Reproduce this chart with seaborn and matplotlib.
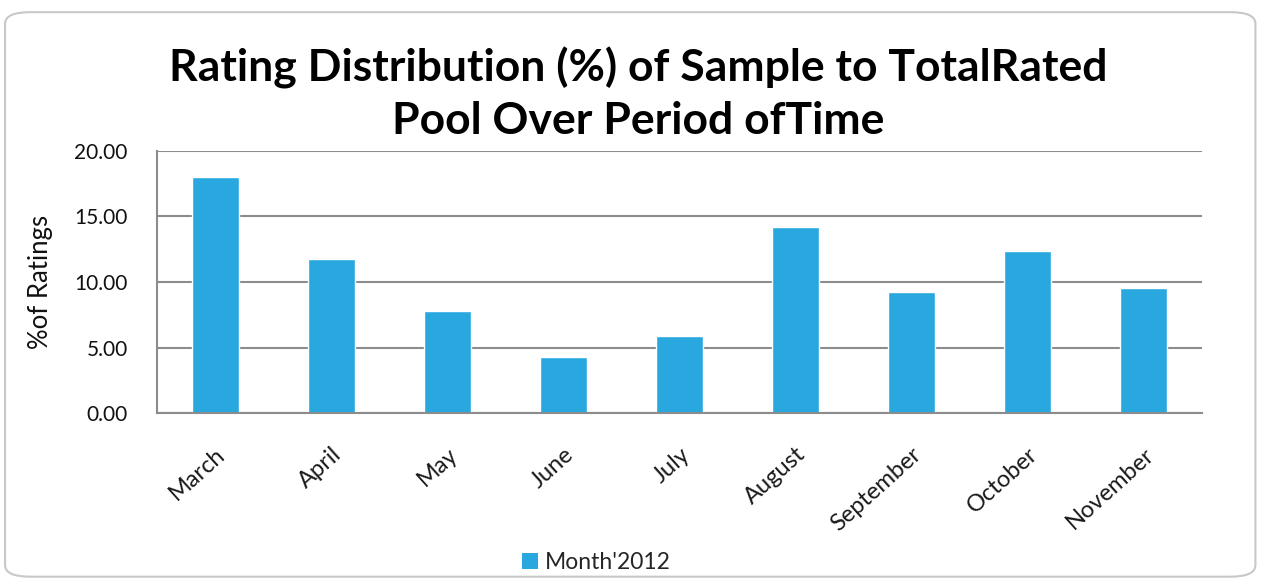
import matplotlib
matplotlib.use("Agg")
import matplotlib.pyplot as plt
import seaborn as sns
import pandas as pd
from matplotlib.patches import FancyBboxPatch, Patch

months = ["March", "April", "May", "June", "July", "August", "September", "October", "November"]
values = [18.03, 11.78, 7.81, 4.30, 5.90, 14.22, 9.26, 12.39, 9.56]
series_name = "Month'2012"
yticks = [0, 5, 10, 15, 20]
title = "Rating Distribution (%) of Sample to TotalRated\nPool Over Period ofTime"

sns.set_theme(style="white")
plt.rcParams['font.family'] = ['Lato', 'DejaVu Sans']

df = pd.DataFrame({"month": months, "value": values})

fig = plt.figure(figsize=(12.63, 5.79), dpi=100)
ax = fig.add_axes([157/1263, 1-413/579, (1202-157)/1263, (413-151)/579])

color = "#29A8E0"
sns.barplot(data=df, x="month", y="value", color=color, width=0.405, ax=ax, saturation=1)

ax.set_ylim(0, 20)
ax.set_xlim(-0.5, len(months)-0.5)
ax.set_yticks(yticks)
ax.set_yticklabels([f"{v:.2f}" for v in yticks], fontsize=15, color="#111111")
ax.yaxis.grid(True, color="#8c8c8c", linewidth=1.5)
ax.set_axisbelow(True)
ax.tick_params(axis='y', length=0, pad=21)
ax.tick_params(axis='x', length=0, pad=22)
plt.setp(ax.get_xticklabels(), rotation=42, ha="right", rotation_mode="anchor", fontsize=17, color="#1a1a1a")
ax.set_xlabel("")
ax.set_ylabel("%of Ratings", fontsize=18.5, color="#111111")
ax.yaxis.set_label_coords(-104/1045, 0.5)
for s in ["top", "right"]:
    ax.spines[s].set_visible(False)
ax.spines["left"].set_color("#8c8c8c")
ax.spines["left"].set_linewidth(1.5)
ax.spines["bottom"].set_color("#8c8c8c")
ax.spines["bottom"].set_linewidth(1.5)

fig.text(0.505, 0.838, title,
         ha="center", va="center", fontsize=32, fontweight="bold", linespacing=1.35, color="#000000")

handle = Patch(facecolor=color, edgecolor="none")
fig.legend([handle], [series_name], loc="center", bbox_to_anchor=(0.472, 0.028),
           frameon=False, fontsize=16.5, handlelength=0.7, handleheight=0.7, handletextpad=0.3)

border = FancyBboxPatch((0.004, 0.004), 0.99, 0.975, boxstyle="round,pad=0,rounding_size=0.02",
                        transform=fig.transFigure, fill=False, edgecolor="#c8c8c8", linewidth=1.5)
fig.patches.append(border)

fig.savefig("out.png", dpi=100)
